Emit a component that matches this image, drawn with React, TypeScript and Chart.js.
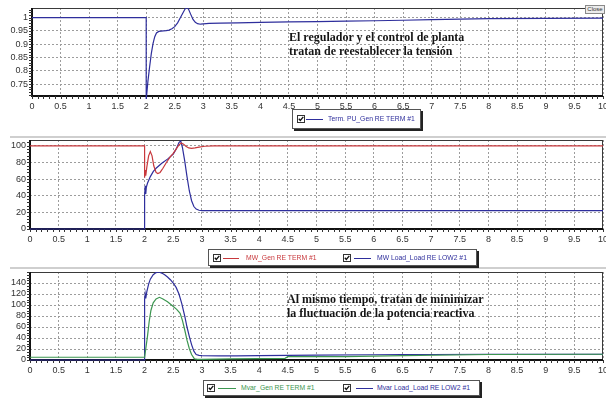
import React, { useEffect, useRef } from 'react';
import { Chart, registerables } from 'chart.js';
Chart.register(...registerables);

// ---------- tick labels ----------
const X_TICKS = [0, 0.5, 1, 1.5, 2, 2.5, 3, 3.5, 4, 4.5, 5, 5.5, 6, 6.5, 7, 7.5, 8, 8.5, 9, 9.5, 10];
const Y1_TICKS = [0.75, 0.8, 0.85, 0.9, 0.95, 1];
const Y2_TICKS = [0, 20, 40, 60, 80, 100];
const Y3_TICKS = [0, 20, 40, 60, 80, 100, 120, 140];

// ---------- panel 1: terminal voltage (p.u.) ----------
const T_PU = [0, 2, 2, 2.03, 2.06, 2.09, 2.12, 2.15, 2.18, 2.22, 2.26, 2.3, 2.35, 2.4, 2.45, 2.5, 2.55, 2.6, 2.64, 2.68, 2.71, 2.74, 2.78, 2.82, 2.86, 2.9, 2.95, 3.0, 3.1, 3.3, 3.6, 4, 4.5, 5, 5.5, 6, 6.5, 7, 7.5, 8, 9, 10];
const PU_GEN = [1, 1, 0.69, 0.76, 0.815, 0.865, 0.903, 0.928, 0.942, 0.948, 0.949, 0.95, 0.951, 0.953, 0.958, 0.966, 0.98, 1.0, 1.016, 1.032, 1.038, 1.032, 1.012, 0.993, 0.982, 0.977, 0.975, 0.976, 0.978, 0.979, 0.98, 0.982, 0.984, 0.985, 0.987, 0.988, 0.99, 0.992, 0.994, 0.996, 0.997, 0.998];

// ---------- panel 2: active power (MW) ----------
const T_MW_GEN = [0, 2, 2, 2.01, 2.02, 2.04, 2.07, 2.1, 2.13, 2.16, 2.2, 2.23, 2.27, 2.32, 2.38, 2.45, 2.5, 2.55, 2.6, 2.64, 2.68, 2.72, 2.77, 2.82, 2.88, 2.95, 3.05, 3.2, 10];
const MW_GEN = [100, 100, 62, 71, 64, 75, 88, 93, 88, 76, 68, 66.7, 68, 73, 80, 87, 91, 96, 101, 103.5, 102, 99.5, 97.5, 97, 97.5, 98.5, 99.5, 100, 100];
const T_MW_LOAD = [0, 2, 2, 2.01, 2.02, 2.03, 2.05, 2.1, 2.15, 2.2, 2.3, 2.4, 2.5, 2.55, 2.6, 2.63, 2.66, 2.7, 2.74, 2.78, 2.82, 2.86, 2.9, 2.95, 3.0, 3.1, 10];
const MW_LOAD = [0, 0, 40, 52, 42, 50, 55, 63, 69, 73, 79, 84, 90, 96, 104, 106, 98, 82, 63, 46, 34, 27, 24, 22.5, 22.2, 22, 22];

// ---------- panel 3: reactive power (Mvar) ----------
const T_MVAR_GEN = [0, 2, 2.02, 2.05, 2.08, 2.11, 2.15, 2.2, 2.26, 2.32, 2.4, 2.48, 2.56, 2.62, 2.66, 2.7, 2.74, 2.78, 2.82, 2.87, 2.92, 3.0, 3.5, 4.45, 4.5, 5.5, 6.5, 8, 10];
const MVAR_GEN = [5, 5, 20, 43, 70, 90, 104, 111, 114, 111, 106, 99, 92, 85, 72, 55, 36, 21, 10, 2, 1, 1, 2, 3, 6, 6, 8, 10, 10.5];
const T_MVAR_LOAD = [0, 2, 2, 2.01, 2.02, 2.04, 2.07, 2.1, 2.15, 2.2, 2.25, 2.3, 2.35, 2.4, 2.45, 2.5, 2.55, 2.6, 2.65, 2.7, 2.74, 2.78, 2.82, 2.86, 2.9, 2.95, 3.0, 3.3, 3.6, 4, 4.5, 5, 6, 6.5, 7, 8, 10];
const MVAR_LOAD = [0, 0, 110, 120, 112, 125, 138, 147, 155, 159, 160, 158, 155, 151, 146, 140, 132, 120, 102, 80, 60, 43, 28, 16, 10, 8.5, 8, 7.5, 7.5, 8, 8.5, 9, 9.5, 10, 10, 10.5, 10.5];

// ---------- labels ----------
const LABEL_PU = 'Term. PU_Gen RE TERM #1';
const LABEL_MW_GEN = 'MW_Gen RE TERM #1';
const LABEL_MW_LOAD = 'MW Load_Load RE LOW2 #1';
const LABEL_MVAR_GEN = 'Mvar_Gen RE TERM #1';
const LABEL_MVAR_LOAD = 'Mvar Load_Load RE LOW2 #1';
const NOTE_1 = ['El regulador y el control de planta', 'tratan de reestablecer la tensión'];
const NOTE_3 = ['Al mismo tiempo, tratan de minimizar', 'la fluctuación de la potencia reactiva'];

const C_BLUE = '#2e2e9c';
const C_RED = '#c8383c';
const C_GREEN = '#3c9650';

type Series = { label: string; t: number[]; v: number[]; color: string };
type Panel = {
  series: Series[];
  yMin: number; yMax: number; yTicks: number[]; yMinor: number;
  canvasH: number; padTop: number; axisH: number; yWidth: number;
};

const framePlugin = {
  id: 'frame',
  beforeDatasetsDraw(chart: any, _a: any, opts: any) {
    const { ctx, chartArea } = chart;
    const { left, right, top, bottom } = chartArea;
    const x = chart.scales.x, y = chart.scales.y;
    ctx.save();
    ctx.strokeStyle = '#3a3a3a';
    ctx.lineWidth = 1;
    ctx.beginPath();
    ctx.moveTo(left, top + 0.5); ctx.lineTo(right, top + 0.5);
    ctx.moveTo(right - 0.5, top); ctx.lineTo(right - 0.5, bottom);
    ctx.stroke();
    ctx.strokeStyle = '#111';
    ctx.lineWidth = 2;
    ctx.beginPath();
    ctx.moveTo(left, top); ctx.lineTo(left, bottom); ctx.lineTo(right, bottom);
    ctx.stroke();
    ctx.lineWidth = 1;
    ctx.strokeStyle = '#333';
    ctx.beginPath();
    for (let i = 0; i <= 100; i++) {
      const px = Math.round(x.getPixelForValue(i / 10)) + 0.5;
      ctx.moveTo(px, bottom); ctx.lineTo(px, bottom + 3);
    }
    const step = opts.yMinor;
    const n0 = Math.ceil(y.min / step - 1e-9), n1 = Math.floor(y.max / step + 1e-9);
    for (let k = n0; k <= n1; k++) {
      const py = Math.round(y.getPixelForValue(k * step)) + 0.5;
      ctx.moveTo(left - 3, py); ctx.lineTo(left, py);
    }
    ctx.stroke();
    ctx.restore();
  },
};

function fmt(v: number) {
  return String(Math.round(v * 1000) / 1000);
}

function PanelChart({ cfg, top }: { cfg: Panel; top: number }) {
  const ref = useRef<HTMLCanvasElement>(null);
  useEffect(() => {
    const canvas = ref.current!;
    const chart = new Chart(canvas, {
      type: 'line',
      data: {
        datasets: cfg.series.map((s) => ({
          label: s.label,
          data: s.t.map((t, i) => ({ x: t, y: s.v[i] })),
          borderColor: s.color,
          borderWidth: 1.2,
          pointRadius: 0,
          tension: 0,
          fill: false,
          clip: { left: 2, right: 2, top: 0, bottom: 3 },
        })),
      },
      options: {
        animation: false,
        responsive: false,
        maintainAspectRatio: false,
        events: [],
        layout: { padding: { top: cfg.padTop, right: 3, left: 0, bottom: 0 } },
        plugins: { legend: { display: false }, tooltip: { enabled: false }, frame: { yMinor: cfg.yMinor } } as any,
        scales: {
          x: {
            type: 'linear',
            min: 0,
            max: 10,
            afterBuildTicks: (s: any) => { s.ticks = X_TICKS.map((v) => ({ value: v })); },
            afterFit: (s: any) => { s.height = cfg.axisH; s.paddingLeft = 0; s.paddingRight = 0; },
            grid: { color: '#9c9c9c', lineWidth: 1, drawTicks: false },
            border: { display: false, dash: [2, 2] },
            ticks: {
              autoSkip: false, maxRotation: 0, padding: 5, color: '#333',
              font: { family: 'Liberation Sans', size: 9 },
              callback: (v: any) => fmt(Number(v)),
            },
          },
          y: {
            type: 'linear',
            min: cfg.yMin,
            max: cfg.yMax,
            afterBuildTicks: (s: any) => { s.ticks = cfg.yTicks.map((v) => ({ value: v })); },
            afterFit: (s: any) => { s.width = cfg.yWidth; s.paddingTop = 0; s.paddingBottom = 0; },
            grid: { color: '#9c9c9c', lineWidth: 1, drawTicks: false },
            border: { display: false, dash: [2, 2] },
            ticks: {
              autoSkip: false, padding: 4, color: '#333',
              font: { family: 'Liberation Sans', size: 9 },
              callback: (v: any) => fmt(Number(v)),
            },
          },
        },
      } as any,
      plugins: [framePlugin as any],
    });
    return () => chart.destroy();
  }, [cfg]);
  return (
    <canvas
      ref={ref}
      width={606}
      height={cfg.canvasH}
      style={{ position: 'absolute', left: 0, top, width: 606, height: cfg.canvasH }}
    />
  );
}

function CheckBox() {
  return (
    <svg width={8} height={8} style={{ position: 'absolute', left: 0, top: 0 }}>
      <rect x={0.5} y={0.5} width={7} height={7} fill="#fff" stroke="#333" strokeWidth={1} />
      <path d="M1.8 3.8 L3.3 5.5 L6.3 1.8" fill="none" stroke="#111" strokeWidth={1.3} />
    </svg>
  );
}

type LegItem = { label: string; color: string; cb: number; l0: number; l1: number; tx: number };
function LegendBox({ left, top, width, height, items }: { left: number; top: number; width: number; height: number; items: LegItem[] }) {
  const mid = height / 2;
  return (
    <div
      style={{
        position: 'absolute', left, top, width, height, boxSizing: 'border-box',
        border: '1px solid #555', background: '#fff', boxShadow: '2px 2px 0 #222',
      }}
    >
      {items.map((it, i) => (
        <React.Fragment key={i}>
          <div style={{ position: 'absolute', left: it.cb, top: mid - 5, width: 8, height: 8 }}>
            <CheckBox />
          </div>
          <div style={{ position: 'absolute', left: it.l0, top: mid - 1, width: it.l1 - it.l0, height: 1, background: it.color }} />
          <div
            style={{
              position: 'absolute', left: it.tx, top: mid - 6, height: 10, lineHeight: '10px',
              fontFamily: 'Liberation Sans', fontSize: 6.8, color: it.color, whiteSpace: 'nowrap',
            }}
          >
            {it.label}
          </div>
        </React.Fragment>
      ))}
    </div>
  );
}

function Note({ left, top, lines }: { left: number; top: number; lines: string[] }) {
  return (
    <div
      style={{
        position: 'absolute', left, top, fontFamily: '"Liberation Serif"', fontWeight: 'bold',
        fontSize: 12, lineHeight: '14px', color: '#151515', whiteSpace: 'nowrap',
      }}
    >
      {lines.map((l, i) => <div key={i}>{l}</div>)}
    </div>
  );
}

const PANEL1: Panel = {
  series: [{ label: LABEL_PU, t: T_PU, v: PU_GEN, color: C_BLUE }],
  yMin: 0.705, yMax: 1.036, yTicks: Y1_TICKS, yMinor: 0.01,
  canvasH: 120, padTop: 8, axisH: 24, yWidth: 32,
};
const PANEL2: Panel = {
  series: [
    { label: LABEL_MW_GEN, t: T_MW_GEN, v: MW_GEN, color: C_RED },
    { label: LABEL_MW_LOAD, t: T_MW_LOAD, v: MW_LOAD, color: C_BLUE },
  ],
  yMin: 0, yMax: 107, yTicks: Y2_TICKS, yMinor: 4,
  canvasH: 112, padTop: 2, axisH: 21, yWidth: 30,
};
const PANEL3: Panel = {
  series: [
    { label: LABEL_MVAR_GEN, t: T_MVAR_GEN, v: MVAR_GEN, color: C_GREEN },
    { label: LABEL_MVAR_LOAD, t: T_MVAR_LOAD, v: MVAR_LOAD, color: C_BLUE },
  ],
  yMin: 0, yMax: 160, yTicks: Y3_TICKS, yMinor: 5,
  canvasH: 110, padTop: 3, axisH: 19, yWidth: 30,
};

export default function App() {
  return (
    <div style={{ position: 'fixed', left: 0, top: 0, width: 606, height: 398, background: '#fff', overflow: 'hidden' }}>
      <PanelChart cfg={PANEL1} top={0} />
      <PanelChart cfg={PANEL2} top={138} />
      <PanelChart cfg={PANEL3} top={269} />

      <div style={{ position: 'absolute', left: 10, top: 136, width: 596, height: 2, background: '#cfcfcf' }} />
      <div style={{ position: 'absolute', left: 10, top: 267, width: 596, height: 2, background: '#cfcfcf' }} />

      <Note left={289} top={30} lines={NOTE_1} />
      <Note left={287} top={292} lines={NOTE_3} />

      <LegendBox left={292} top={109} width={129} height={20}
        items={[{ label: LABEL_PU, color: C_BLUE, cb: 4, l0: 13, l1: 30, tx: 35 }]} />
      <LegendBox left={208} top={249} width={269} height={17}
        items={[
          { label: LABEL_MW_GEN, color: C_RED, cb: 4, l0: 14, l1: 30, tx: 37 },
          { label: LABEL_MW_LOAD, color: C_BLUE, cb: 134, l0: 145, l1: 162, tx: 168 },
        ]} />
      <LegendBox left={203} top={380} width={277} height={16}
        items={[
          { label: LABEL_MVAR_GEN, color: C_GREEN, cb: 3, l0: 14, l1: 32, tx: 37 },
          { label: LABEL_MVAR_LOAD, color: C_BLUE, cb: 139, l0: 152, l1: 169, tx: 173 },
        ]} />

      <div
        style={{
          position: 'absolute', left: 585, top: 5, width: 20, height: 9, boxSizing: 'border-box',
          border: '1px solid #8a8a8a', background: '#ececec', fontFamily: 'Liberation Sans',
          fontSize: 6, lineHeight: '7px', textAlign: 'center', color: '#333',
        }}
      >
        Close
      </div>
    </div>
  );
}
